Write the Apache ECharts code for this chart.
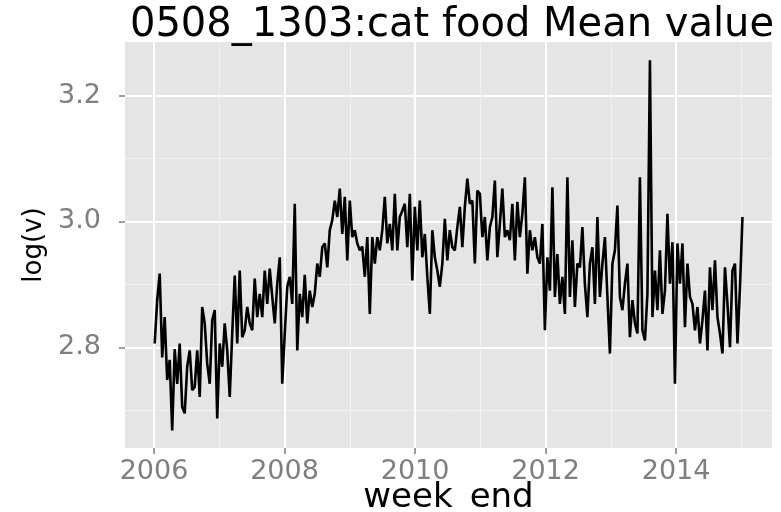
<!DOCTYPE html>
<html>
<head>
<meta charset="utf-8">
<title>0508_1303:cat food Mean value</title>
<script src="https://cdn.jsdelivr.net/npm/echarts@6/dist/echarts.min.js"></script>
<style>
    html, body { margin: 0; padding: 0; background: #fff; }
    #chart { width: 781px; height: 512px; }
</style>
</head>
<body>
<div id="chart"></div>
<script>
// log of the weekly mean value (about one value every two weeks)
var y2006 = [2.806, 2.875, 2.917, 2.784, 2.848, 2.748, 2.78, 2.668, 2.797, 2.742, 2.806, 2.705, 2.695,
             2.769, 2.795, 2.732, 2.737, 2.795, 2.721, 2.864, 2.838, 2.774, 2.742, 2.843, 2.859, 2.687];
var y2007 = [2.806, 2.769, 2.838, 2.795, 2.721, 2.822, 2.914, 2.806, 2.922, 2.816, 2.827, 2.864, 2.838,
             2.827, 2.909, 2.848, 2.885, 2.848, 2.922, 2.869, 2.925, 2.88, 2.838, 2.901, 2.943, 2.742];
var y2008 = [2.822, 2.896, 2.912, 2.869, 3.028, 2.795, 2.885, 2.848, 2.915, 2.838, 2.89, 2.864, 2.885,
             2.933, 2.912, 2.959, 2.965, 2.927, 2.986, 3.002, 3.033, 3.007, 3.052, 2.98, 3.039, 2.938];
var y2009 = [3.033, 2.975, 2.986, 2.965, 2.954, 2.96, 2.912, 2.975, 2.853, 2.975, 2.933, 2.975, 2.954,
             2.986, 3.039, 2.965, 2.996, 2.954, 3.044, 2.954, 3.007, 3.017, 3.028, 2.959, 3.044, 2.906];
var y2010 = [3.023, 2.954, 3.033, 2.943, 2.98, 2.912, 2.853, 2.986, 2.943, 2.922, 2.896, 2.933, 3.004,
             2.938, 2.986, 2.959, 2.954, 2.991, 3.023, 2.959, 3.023, 3.068, 3.028, 3.033, 2.933, 3.049];
var y2011 = [3.044, 2.975, 3.007, 2.938, 2.991, 3.007, 3.065, 2.943, 2.996, 3.052, 2.975, 2.986, 2.97,
             3.028, 2.938, 3.031, 2.975, 3.012, 3.07, 2.917, 2.986, 2.954, 2.975, 2.943, 2.933, 2.996];
var y2012 = [2.827, 2.943, 2.89, 3.054, 2.88, 2.948, 2.869, 2.912, 2.853, 3.07, 2.88, 2.97, 2.864,
             2.933, 2.927, 2.991, 2.9, 2.848, 2.933, 2.959, 2.869, 3.007, 2.88, 2.933, 2.975, 2.88];
var y2013 = [2.79, 2.933, 2.954, 3.025, 2.88, 2.859, 2.901, 2.933, 2.816, 2.875, 2.838, 2.822, 3.07,
             2.827, 2.811, 2.885, 3.256, 2.848, 2.922, 2.859, 2.954, 2.853, 2.89, 3.012, 2.901, 2.967];
var y2014 = [2.742, 2.965, 2.901, 2.965, 2.832, 2.933, 2.88, 2.869, 2.827, 2.864, 2.806, 2.843, 2.89,
             2.795, 2.927, 2.859, 2.938, 2.848, 2.822, 2.79, 2.927, 2.869, 2.8, 2.922, 2.933, 2.806,
             2.896, 3.007];

var xMajor = [2006, 2008, 2010, 2012, 2014];
var xMinor = [2007, 2009, 2011, 2013, 2015];
var yMajor = [2.8, 3.0, 3.2];
var yMinor = [2.7, 2.9, 3.1];

var startYear = 2006.01;          // first week_end
var stepYears = 14 / 365.25;      // two weeks between readings

var values = [].concat(y2006, y2007, y2008, y2009, y2010, y2011, y2012, y2013, y2014);
var points = values.map(function (v, i) {
    return [startYear + i * stepYears, v];
});

var FONT = '"DejaVu Sans", Verdana, sans-serif';
var grey = '#7f7f7f';

var myChart = echarts.init(document.getElementById('chart'));
myChart.setOption({
    animation: false,
    backgroundColor: '#ffffff',
    title: {
        text: '0508_1303:cat food Mean value',
        left: 447,
        top: 1,
        textAlign: 'center',
        textStyle: {
            fontFamily: FONT,
            fontSize: 40,
            fontWeight: 'normal',
            color: '#000'
        }
    },
    grid: {
        left: 125,
        right: 9,
        top: 42,
        bottom: 64,
        show: true,
        backgroundColor: '#e5e5e5',
        borderWidth: 0,
        containLabel: false,
        outerBoundsMode: 'none'
    },
    xAxis: [
        {
            type: 'value',
            min: 2005.555,
            max: 2015.47,
            name: 'week_end',
            nameLocation: 'middle',
            nameGap: 33,
            nameMoveOverlap: false,
            nameTextStyle: { fontFamily: FONT, fontSize: 34, color: '#000' },
            axisLine: { show: false },
            axisTick: {
                show: true, length: 6, customValues: xMajor,
                lineStyle: { color: grey, width: 1.5 }
            },
            axisLabel: {
                customValues: xMajor, margin: 10,
                fontFamily: FONT, fontSize: 27, color: grey,
                formatter: function (v) { return String(v); }
            },
            splitLine: { show: true, lineStyle: { color: '#ffffff', width: 2 } }
        },
        {
            type: 'value',
            min: 2005.555,
            max: 2015.47,
            position: 'bottom',
            axisLine: { show: false },
            axisTick: { show: false, customValues: xMinor },
            axisLabel: { show: false, customValues: xMinor },
            splitLine: { show: true, lineStyle: { color: '#f2f2f2', width: 1 } }
        }
    ],
    yAxis: [
        {
            type: 'value',
            min: 2.64,
            max: 3.285,
            name: 'log(v)',
            nameLocation: 'middle',
            nameRotate: 90,
            nameGap: 78,
            nameMoveOverlap: false,
            nameTextStyle: { fontFamily: FONT, fontSize: 26, color: '#000' },
            axisLine: { show: false },
            axisTick: {
                show: true, length: 6, customValues: yMajor,
                lineStyle: { color: grey, width: 1.5 }
            },
            axisLabel: {
                customValues: yMajor, margin: 24,
                fontFamily: FONT, fontSize: 27, color: grey,
                formatter: function (v) { return v.toFixed(1); }
            },
            splitLine: { show: true, lineStyle: { color: '#ffffff', width: 2 } }
        },
        {
            type: 'value',
            min: 2.64,
            max: 3.285,
            position: 'left',
            axisLine: { show: false },
            axisTick: { show: false, customValues: yMinor },
            axisLabel: { show: false, customValues: yMinor },
            splitLine: { show: true, lineStyle: { color: '#f2f2f2', width: 1 } }
        }
    ],
    series: [
        {
            name: 'log(v)',
            type: 'line',
            xAxisIndex: 0,
            yAxisIndex: 0,
            data: points,
            showSymbol: false,
            symbol: 'none',
            lineStyle: { color: '#000', width: 2.6 },
            z: 5
        }
    ]
});
</script>
</body>
</html>
